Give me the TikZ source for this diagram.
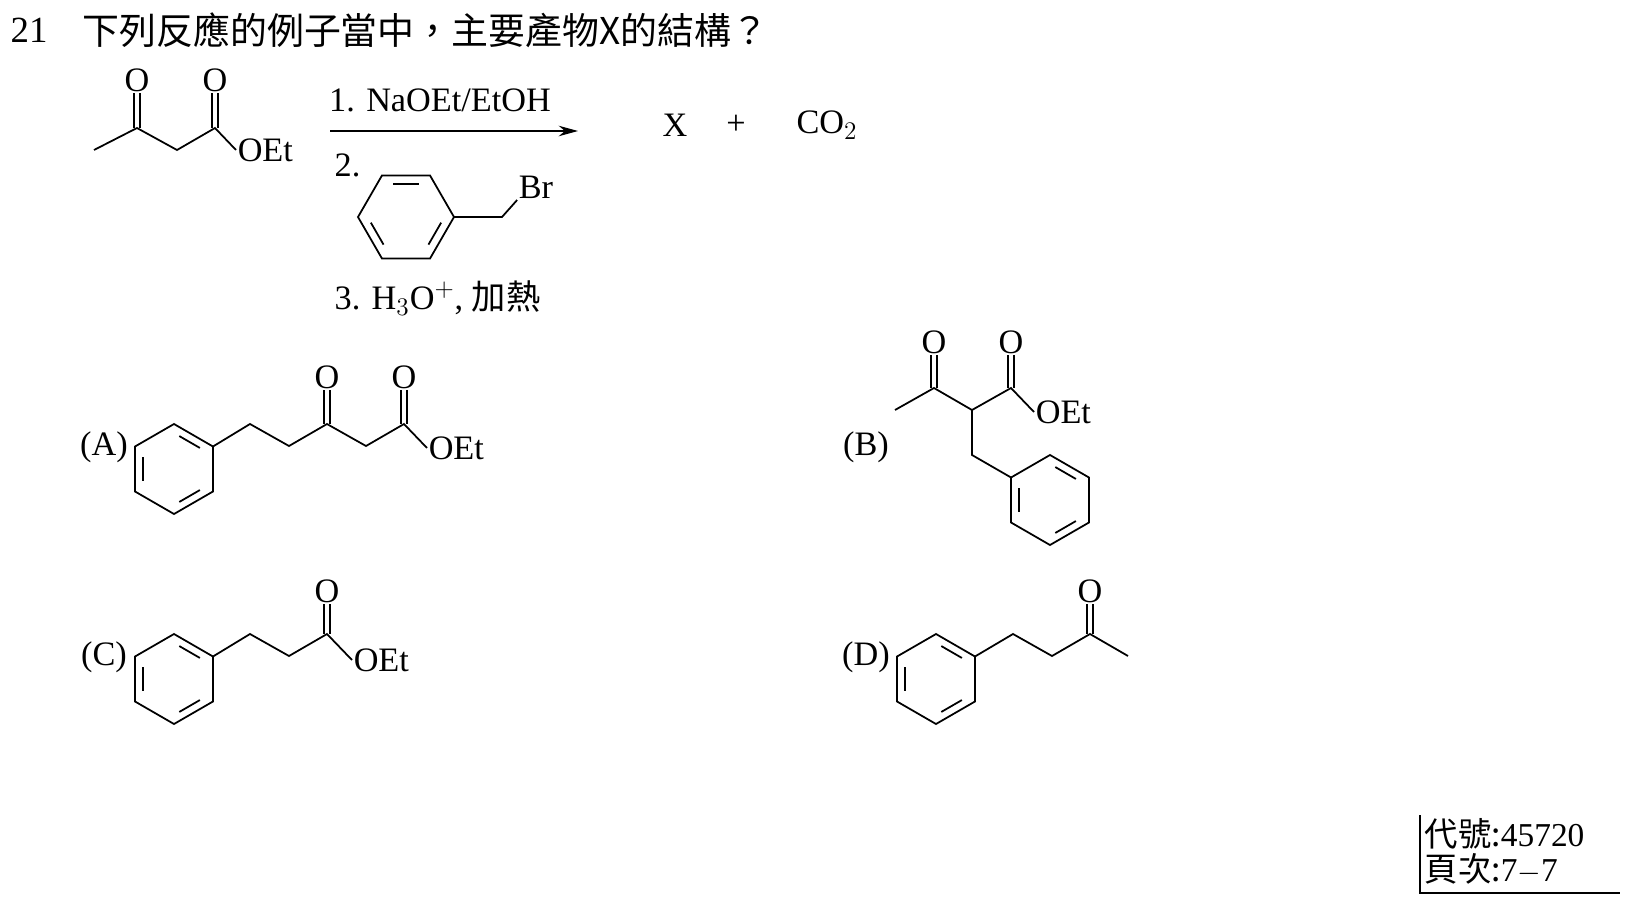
\documentclass[tikz,border=0pt]{standalone}
\usepackage{fontspec}
\setmainfont{Liberation Serif}
\newfontfamily\cjk{Noto Sans CJK TC}
\usetikzlibrary{calc,arrows.meta}
% benzene ring: name, centre x, centre y, start angle, radius
\newcommand{\benz}[5]{%
\coordinate (#1c) at (#2,#3);
\foreach \k in {0,...,5} {\coordinate (#1\k) at ($(#1c)+({#4+60*\k}:#5)$);}
\draw (#10)--(#11)--(#12)--(#13)--(#14)--(#15)--cycle;
\foreach \k/\j in {0/1,2/3,4/5} {\draw ($(#1c)!0.8!(#1\k)!0.17!($(#1c)!0.8!(#1\j)$)$) -- ($(#1c)!0.8!(#1\j)!0.17!($(#1c)!0.8!(#1\k)$)$);}
}
% C=O double bond from carbon up to an O node
\newcommand{\dbl}[2]{%
\draw ([xshift=-0.06cm]#1) -- ([xshift=-0.06cm]#2.south);
\draw ([xshift=0.06cm]#1) -- ([xshift=0.06cm]#2.south);
}
\begin{document}
\begin{tikzpicture}[x=0.02cm,y=-0.02cm,line width=1pt,
  every node/.style={font=\fontsize{19.5}{22}\selectfont,inner sep=1pt},
  atom/.style={inner sep=0.5pt},
  tag/.style={font=\fontsize{19.5}{22}\selectfont}]
\useasboundingbox (0,0) rectangle (1633,899);
% title
\node[anchor=west,font=\fontsize{21}{24}\selectfont] (num) at (8,30) {21};
\node[anchor=west,font=\cjk\fontsize{21}{24}\selectfont] (q) at (80,30) {下列反應的例子當中，主要產物X的結構？};
% starting material
\coordinate (s1) at (94,150); \coordinate (s2) at (137,128);
\coordinate (s3) at (177,150); \coordinate (s4) at (215,128);
\node[atom] (sO1) at (137,80) {O}; \node[atom] (sO2) at (215,80) {O};
\node[atom,anchor=west] (sOEt) at (236,150) {OEt};
\draw (s1)--(s2)--(s3)--(s4)--(sOEt.west);
\dbl{s2}{sO1} \dbl{s4}{sO2}
% arrow and reagents
\coordinate (a1) at (330,131); \coordinate (a2) at (578,131);
\draw[-{Stealth[length=11pt,width=6pt]},line width=0.9pt] (a1) -- (a2);
\node (r1) at (440,100) {1. NaOEt/EtOH};
\node[anchor=west] (r2) at (332,165) {2.};
\benz{rb}{406}{217}{0}{48}
\coordinate (rb6) at (502,217);
\node[atom] (rBr) at (536,187) {Br};
\draw (rb0)--(rb6)--(rBr.south west);
\node[anchor=west] (r3) at (332,298) {3. H$_3$O$^+$, {\cjk 加熱}};
\node (X) at (675,125) {X};
\node (plus) at (736,125) {+};
\node (co2) at (827,125) {CO$_2$};
% (A)
\node[tag] (lA) at (104,447) {(A)};
\benz{ra}{174}{469}{30}{45}
\coordinate (A1) at (250,424); \coordinate (A2) at (289,446);
\coordinate (A3) at (327,424); \coordinate (A4) at (366,446);
\coordinate (A5) at (404,424);
\node[atom] (AO1) at (327,377) {O}; \node[atom] (AO2) at (404,377) {O};
\node[atom,anchor=west] (AOEt) at (427,448) {OEt};
\draw (ra5)--(A1)--(A2)--(A3)--(A4)--(A5)--(AOEt.west);
\dbl{A3}{AO1} \dbl{A5}{AO2}
% (B)
\node[tag] (lB) at (866,447) {(B)};
\coordinate (B1) at (895,410); \coordinate (B2) at (934,388);
\coordinate (B3) at (972,410); \coordinate (B4) at (1011,388);
\coordinate (B5) at (972,455);
\node[atom] (BO1) at (934,342) {O}; \node[atom] (BO2) at (1011,342) {O};
\node[atom,anchor=west] (BOEt) at (1034,412) {OEt};
\draw (B1)--(B2)--(B3)--(B4)--(BOEt.west);
\dbl{B2}{BO1} \dbl{B4}{BO2}
\benz{rbb}{1050}{500}{30}{45}
\draw (B3)--(B5)--(rbb3);
% (C)
\node[tag] (lC) at (104,657) {(C)};
\benz{rc}{174}{679}{30}{45}
\coordinate (C1) at (250,634); \coordinate (C2) at (289,656);
\coordinate (C3) at (327,634);
\node[atom] (CO1) at (327,591) {O};
\node[atom,anchor=west] (COEt) at (352,660) {OEt};
\draw (rc5)--(C1)--(C2)--(C3)--(COEt.west);
\dbl{C3}{CO1}
% (D)
\node[tag] (lD) at (866,657) {(D)};
\benz{rd}{936}{679}{30}{45}
\coordinate (D1) at (1013,634); \coordinate (D2) at (1052,656);
\coordinate (D3) at (1090,634); \coordinate (D4) at (1128,656);
\node[atom] (DO1) at (1090,591) {O};
\draw (rd5)--(D1)--(D2)--(D3)--(D4);
\dbl{D3}{DO1}
% code box
\coordinate (k1) at (1420,815); \coordinate (k2) at (1420,893); \coordinate (k3) at (1620,893);
\draw (k1)--(k2)--(k3);
\node[anchor=west,font=\cjk\fontsize{19}{21}\selectfont,inner sep=0pt] (code) at (1424,834) {代號:{\rmfamily 45720}};
\node[anchor=west,font=\cjk\fontsize{19}{21}\selectfont,inner sep=0pt] (page) at (1424,869) {頁次:{\rmfamily 7$-$7}};
\end{tikzpicture}
\end{document}
